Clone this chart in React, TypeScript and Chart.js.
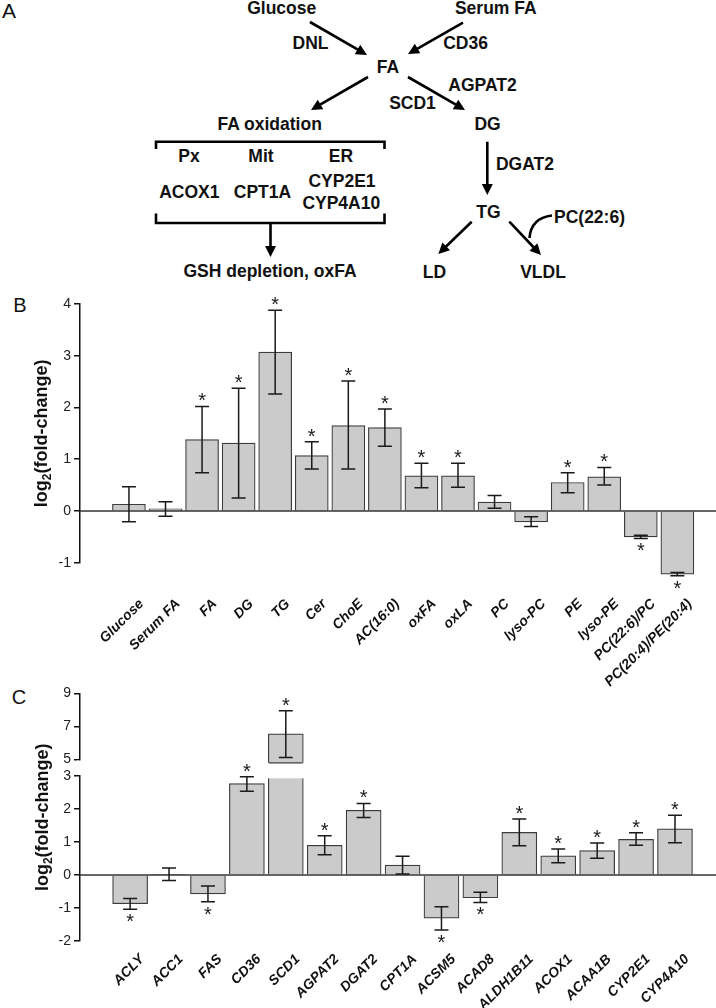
import React, { useEffect, useRef } from "react";
import { Chart, registerables } from "chart.js";

Chart.register(...registerables);

// ---------- Panel B data ----------
const bCategories = [
  "Glucose", "Serum FA", "FA", "DG", "TG", "Cer", "ChoE", "AC(16:0)",
  "oxFA", "oxLA", "PC", "lyso-PC", "PE", "lyso-PE", "PC(22:6)/PC", "PC(20:4)/PE(20:4)",
];
const bValues = [0.13, 0.04, 1.38, 1.31, 3.07, 1.07, 1.65, 1.61, 0.68, 0.68, 0.17, -0.21, 0.55, 0.66, -0.5, -1.22];
const bUpper = [0.47, 0.18, 2.02, 2.37, 3.88, 1.34, 2.51, 1.97, 0.92, 0.92, 0.3, -0.11, 0.74, 0.84, -0.47, -1.19];
const bLower = [-0.21, -0.1, 0.74, 0.25, 2.26, 0.81, 0.81, 1.25, 0.45, 0.46, 0.05, -0.3, 0.35, 0.5, -0.53, -1.25];
const bSignificant = [false, false, true, true, true, true, true, true, true, true, false, false, true, true, true, true];
const bTickValues = [-1, 0, 1, 2, 3, 4];

// ---------- Panel C data ----------
const cCategories = [
  "ACLY", "ACC1", "FAS", "CD36", "SCD1", "AGPAT2", "DGAT2", "CPT1A",
  "ACSM5", "ACAD8", "ALDH1B11", "ACOX1", "ACAA1B", "CYP2E1", "CYP4A10",
];
const cValues = [-0.87, 0.02, -0.57, 2.77, 6.55, 0.9, 1.96, 0.3, -1.31, -0.69, 1.29, 0.58, 0.74, 1.08, 1.4];
const cUpper = [-0.71, 0.21, -0.33, 2.98, 7.95, 1.19, 2.17, 0.57, -0.96, -0.52, 1.7, 0.79, 0.97, 1.28, 1.81];
const cLower = [-1.04, -0.17, -0.81, 2.54, 5.12, 0.61, 1.74, 0.03, -1.67, -0.83, 0.89, 0.37, 0.51, 0.9, 0.98];
const cSignificant = [true, false, true, true, true, true, true, false, true, true, true, true, true, true, true];
const cTickValues = [-2, -1, 0, 1, 2, 3, 5, 7, 9];

// broken axis for panel C: 0..3 full scale, 5..9 at half scale
const cAxis = (v: number) => (v <= 3 ? v : 3.5 + (v - 5) / 2);
const bAxis = (v: number) => v;

const FONT = '"Liberation Sans", Arial, Helvetica, sans-serif';

type Spec = {
  categories: string[];
  values: number[];
  upper: number[];
  lower: number[];
  sig: boolean[];
  tickValues: number[];
  axisMap: (v: number) => number;
  yMin: number;
  yMax: number;
  xMin: number;
  xMax: number;
  barThickness: number;
  width: number;
  height: number;
  top: number;
  padTop: number;
  xHeight: number;
  labelDrop: number;
  labelOffset: number;
  titleX: number;
  breakBar?: { index: number; gapLow: number; gapHigh: number; axisLow: number; axisHigh: number };
};

function drawAsterisk(ctx: CanvasRenderingContext2D, x: number, cy: number) {
  ctx.save();
  ctx.font = `20px ${FONT}`;
  ctx.fillStyle = "#1a1a1a";
  ctx.textAlign = "center";
  ctx.textBaseline = "alphabetic";
  const m = ctx.measureText("*");
  const asc = m.actualBoundingBoxAscent || 14;
  const desc = m.actualBoundingBoxDescent || -8;
  const y = cy - (desc - asc) / 2;
  ctx.fillText("*", x, y);
  ctx.restore();
}

function BarPanel({ spec }: { spec: Spec }) {
  const ref = useRef<HTMLCanvasElement | null>(null);
  useEffect(() => {
    const canvas = ref.current;
    if (!canvas) return;
    const s = spec;
    const overlay = {
      id: "overlay",
      afterDatasetsDraw(chart: any) {
        const ctx: CanvasRenderingContext2D = chart.ctx;
        const ys = chart.scales.y;
        const area = chart.chartArea;
        const meta = chart.getDatasetMeta(0);
        const Y = (v: number) => ys.getPixelForValue(s.axisMap(v));
        ctx.save();
        // break in the tall bar and in the axis
        if (s.breakBar) {
          const bb = s.breakBar;
          const el = meta.data[bb.index];
          const w = el.width;
          const yTop = ys.getPixelForValue(bb.gapHigh);
          const yBot = ys.getPixelForValue(bb.gapLow);
          ctx.fillStyle = "#ffffff";
          ctx.fillRect(el.x - w / 2 - 2, yTop, w + 4, yBot - yTop);
          ctx.strokeStyle = "#3c3c3c";
          ctx.lineWidth = 1.2;
          ctx.beginPath();
          ctx.moveTo(el.x - w / 2 + 0.6, yTop);
          ctx.lineTo(el.x + w / 2 - 0.6, yTop);
          ctx.stroke();
          const a1 = Y(bb.axisHigh);
          const a2 = Y(bb.axisLow);
          ctx.fillRect(area.left - 3, a1 + 1, 6, a2 - a1 - 2);
        }
        // zero line
        const y0 = Y(0);
        ctx.strokeStyle = "#333";
        ctx.lineWidth = 1.5;
        ctx.beginPath();
        ctx.moveTo(area.left, y0);
        ctx.lineTo(chart.width, y0);
        ctx.stroke();
        // error bars and significance marks
        ctx.strokeStyle = "#1a1a1a";
        ctx.lineWidth = 1.5;
        const cap = 7;
        s.values.forEach((v, i) => {
          const el = meta.data[i];
          const x = el.x;
          const yh = Y(s.upper[i]);
          const yl = Y(s.lower[i]);
          ctx.beginPath();
          ctx.moveTo(x, yh);
          ctx.lineTo(x, yl);
          ctx.moveTo(x - cap, yh);
          ctx.lineTo(x + cap, yh);
          ctx.moveTo(x - cap, yl);
          ctx.lineTo(x + cap, yl);
          ctx.stroke();
          if (s.sig[i]) {
            if (v >= 0) {
              drawAsterisk(ctx, x, Math.min(yh, Y(v)) - 9);
            } else {
              drawAsterisk(ctx, x, Math.max(yl, Y(v)) + 9);
            }
          }
        });
        // rotated category labels (45 deg)
        ctx.fillStyle = "#111";
        ctx.font = `italic bold 14px ${FONT}`;
        ctx.textAlign = "right";
        ctx.textBaseline = "middle";
        s.categories.forEach((lab, i) => {
          const el = meta.data[i];
          ctx.save();
          ctx.translate(el.x + s.labelOffset, area.bottom + s.labelDrop);
          ctx.rotate(-Math.PI / 4);
          ctx.fillText(lab, 0, 0);
          ctx.restore();
        });
        // y-axis title with subscript
        const cy = (area.top + area.bottom) / 2;
        ctx.translate(s.titleX, cy);
        ctx.rotate(-Math.PI / 2);
        ctx.fillStyle = "#111";
        ctx.textBaseline = "alphabetic";
        ctx.textAlign = "left";
        const big = `bold 18px ${FONT}`;
        const small = `bold 12px ${FONT}`;
        ctx.font = big;
        const w1 = ctx.measureText("log").width;
        const w3 = ctx.measureText("(fold-change)").width;
        ctx.font = small;
        const w2 = ctx.measureText("2").width;
        const total = w1 + w2 + w3;
        let xx = -total / 2;
        const base = 6.5;
        ctx.font = big;
        ctx.fillText("log", xx, base);
        xx += w1;
        ctx.font = small;
        ctx.fillText("2", xx, base + 4);
        xx += w2;
        ctx.font = big;
        ctx.fillText("(fold-change)", xx, base);
        ctx.restore();
      },
    };

    const chart = new Chart(canvas, {
      type: "bar",
      data: {
        datasets: [
          {
            data: s.values.map((v, i) => ({ x: i, y: s.axisMap(v) })),
            backgroundColor: "#cbcbcb",
            borderColor: "#3c3c3c",
            borderWidth: 1.2,
            barThickness: s.barThickness,
            clip: false,
          } as any,
        ],
      },
      options: {
        responsive: false,
        animation: false,
        devicePixelRatio: 1,
        layout: { padding: { top: s.padTop, left: 0, right: 0, bottom: 0 } },
        plugins: { legend: { display: false }, tooltip: { enabled: false }, title: { display: false } },
        scales: {
          x: {
            type: "linear",
            min: s.xMin,
            max: s.xMax,
            grid: { display: false, drawTicks: false },
            border: { display: false },
            afterBuildTicks: (scale: any) => {
              scale.ticks = s.categories.map((_, i) => ({ value: i }));
            },
            afterFit: (scale: any) => {
              scale.height = s.xHeight;
              scale.paddingLeft = 0;
              scale.paddingRight = 0;
            },
            ticks: { display: false },
          },
          y: {
            type: "linear",
            min: s.yMin,
            max: s.yMax,
            afterBuildTicks: (scale: any) => {
              scale.ticks = s.tickValues.map((v) => ({ value: s.axisMap(v) }));
            },
            afterFit: (scale: any) => {
              scale.width = 80;
              scale.paddingTop = 0;
              scale.paddingBottom = 0;
            },
            ticks: {
              autoSkip: false,
              padding: 3,
              color: "#222",
              font: { family: FONT, size: 14 },
              callback: (_v: any, i: number) => String(s.tickValues[i]),
            },
            grid: { display: true, drawOnChartArea: false, drawTicks: true, tickLength: 6, color: "#111", lineWidth: 1.5 },
            border: { display: true, color: "#111", width: 1.5 },
          },
        },
      } as any,
      plugins: [overlay as any],
    });
    return () => chart.destroy();
  }, [spec]);
  return (
    <canvas
      ref={ref}
      width={spec.width}
      height={spec.height}
      style={{ position: "absolute", left: 0, top: spec.top, width: spec.width, height: spec.height, display: "block" }}
    />
  );
}

const specB: Spec = {
  categories: bCategories,
  values: bValues,
  upper: bUpper,
  lower: bLower,
  sig: bSignificant,
  tickValues: bTickValues,
  axisMap: bAxis,
  yMin: -1,
  yMax: 4,
  xMin: -0.795,
  xMax: 15.513,
  barThickness: 33,
  width: 716,
  height: 410,
  top: 290,
  padTop: 14,
  xHeight: 410 - 14 - 258.7,
  labelDrop: 39,
  labelOffset: 12.5,
  titleX: 40,
};

const specC: Spec = {
  categories: cCategories,
  values: cValues,
  upper: cUpper,
  lower: cLower,
  sig: cSignificant,
  tickValues: cTickValues,
  axisMap: cAxis,
  yMin: -2,
  yMax: cAxis(9),
  xMin: -0.743,
  xMax: 14.509,
  barThickness: 35,
  width: 716,
  height: 328,
  top: 680,
  padTop: 13.5,
  xHeight: 328 - 13.5 - 247.5,
  labelDrop: 16,
  labelOffset: 12,
  titleX: 41,
  breakBar: { index: 4, gapLow: 2.93, gapHigh: 3.4, axisLow: 3, axisHigh: 5 },
};

function Arrow({ x1, y1, x2, y2 }: { x1: number; y1: number; x2: number; y2: number }) {
  const dx = x2 - x1;
  const dy = y2 - y1;
  const L = Math.hypot(dx, dy);
  const ux = dx / L;
  const uy = dy / L;
  const hl = 11;
  const hw = 5.5;
  const bx = x2 - ux * hl;
  const by = y2 - uy * hl;
  return (
    <g>
      <line x1={x1} y1={y1} x2={bx + ux * 2} y2={by + uy * 2} stroke="#000" strokeWidth={2.6} />
      <polygon points={`${x2},${y2} ${bx - uy * hw},${by + ux * hw} ${bx + uy * hw},${by - ux * hw}`} fill="#000" />
    </g>
  );
}

type Lbl = { t: string; x: number; y: number };
const diagramLabels: Lbl[] = [
  { t: "Glucose", x: 281.7, y: 13.5 },
  { t: "Serum FA", x: 495.8, y: 13.5 },
  { t: "DNL", x: 310.5, y: 49 },
  { t: "CD36", x: 465.5, y: 49 },
  { t: "FA", x: 388, y: 73 },
  { t: "AGPAT2", x: 482.5, y: 91.3 },
  { t: "SCD1", x: 412.5, y: 109 },
  { t: "FA oxidation", x: 269.7, y: 129.6 },
  { t: "DG", x: 487.5, y: 130 },
  { t: "Px", x: 189, y: 162.3 },
  { t: "Mit", x: 261, y: 162.3 },
  { t: "ER", x: 341, y: 162.3 },
  { t: "ACOX1", x: 189.3, y: 198 },
  { t: "CPT1A", x: 262.5, y: 198 },
  { t: "CYP2E1", x: 342, y: 187.3 },
  { t: "CYP4A10", x: 341.3, y: 209 },
  { t: "DGAT2", x: 525, y: 169.6 },
  { t: "TG", x: 488.5, y: 218 },
  { t: "PC(22:6)", x: 589.5, y: 223 },
  { t: "GSH depletion, oxFA", x: 270, y: 276.5 },
  { t: "LD", x: 434.5, y: 278 },
  { t: "VLDL", x: 543, y: 278 },
];

function Diagram() {
  return (
    <svg
      width={716}
      height={1008}
      style={{ position: "absolute", left: 0, top: 0 }}
      fontFamily={FONT}
    >
      <text x={9} y={18} fontSize={21} textAnchor="middle" fill="#111">A</text>
      <text x={20} y={312} fontSize={20} textAnchor="middle" fill="#111">B</text>
      <text x={19} y={704} fontSize={20} textAnchor="middle" fill="#111">C</text>
      {diagramLabels.map((l) => (
        <text key={l.t} x={l.x} y={l.y} fontSize={17.5} fontWeight="bold" textAnchor="middle" fill="#111">
          {l.t}
        </text>
      ))}
      <Arrow x1={310} y1={22} x2={367} y2={55} />
      <Arrow x1={463} y1={22.7} x2={408} y2={54} />
      <Arrow x1={368} y1={77} x2={311} y2={110} />
      <Arrow x1={408} y1={77} x2={465} y2={110} />
      <Arrow x1={487.3} y1={141.7} x2={487.3} y2={195} />
      <Arrow x1={270.5} y1={223} x2={270.5} y2={257} />
      <Arrow x1={471.7} y1={221.7} x2={438.3} y2={254} />
      <Arrow x1={509.3} y1={221.7} x2={541} y2={255} />
      <path d="M 552 215.5 Q 531 218 529.5 238" fill="none" stroke="#000" strokeWidth={2.6} />
      <polyline points="156,149 156,141.7 384.5,141.7 384.5,149" fill="none" stroke="#000" strokeWidth={2.6} />
      <polyline points="156,213.5 156,223 384.5,223 384.5,213.5" fill="none" stroke="#000" strokeWidth={2.6} />
    </svg>
  );
}

export default function App() {
  return (
    <div
      style={{
        position: "absolute",
        left: 0,
        top: 0,
        width: 716,
        height: 1008,
        background: "#ffffff",
        overflow: "hidden",
      }}
    >
      <Diagram />
      <BarPanel spec={specB} />
      <BarPanel spec={specC} />
    </div>
  );
}
